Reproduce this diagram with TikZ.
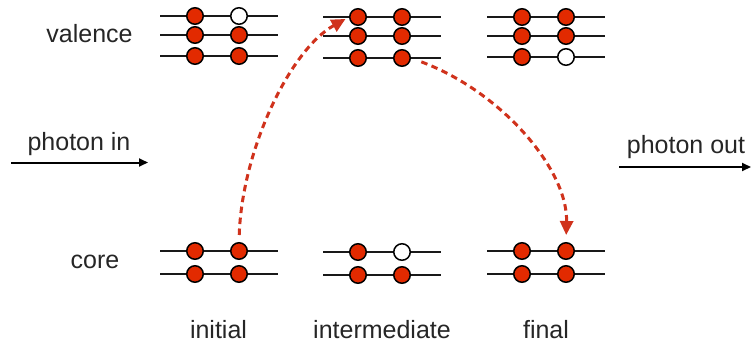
\documentclass[tikz,border=0pt]{standalone}
\usepackage{fontspec}
\setmainfont{Liberation Sans}
\usetikzlibrary{arrows.meta}
\definecolor{elred}{RGB}{226,42,0}
\definecolor{arrred}{RGB}{208,50,28}
\tikzset{
  level/.style={line width=2pt, draw=black!90},
  elec/.style={circle, draw=black, line width=1.5pt, fill=elred, inner sep=0pt, minimum size=16.5pt},
  hole/.style={elec, fill=white},
  lbl/.style={anchor=base, font=\fontsize{25}{30}\selectfont, text=black!85, inner sep=0pt},
  jump/.style={draw=arrred, line width=3pt, dash pattern=on 6.5pt off 4.5pt, -{Triangle[length=14pt,width=13pt]}},
  photon/.style={line width=2pt, -{Triangle[length=9pt,width=8pt]}}
}
\newcommand{\lev}[5]{% name, xleft, y, left style, right style
  \draw[level] (#2,#3) -- ++(118,0);
  \node[#4] (#1a) at (#2+35,#3) {};
  \node[#5] (#1b) at (#2+79,#3) {};
}
\begin{document}
\begin{tikzpicture}[x=1pt,y=-1pt]
\useasboundingbox (0,0) rectangle (751,345);
% initial
\lev{iva}{160}{16}{elec}{hole}
\lev{ivb}{160}{35}{elec}{elec}
\lev{ivc}{160}{56}{elec}{elec}
\lev{ica}{160}{251}{elec}{elec}
\lev{icb}{160}{274}{elec}{elec}
% intermediate
\lev{mva}{323}{17}{elec}{elec}
\lev{mvb}{323}{36}{elec}{elec}
\lev{mvc}{323}{58}{elec}{elec}
\lev{mca}{323}{252}{elec}{hole}
\lev{mcb}{323}{275}{elec}{elec}
% final
\lev{fva}{487}{17}{elec}{elec}
\lev{fvb}{487}{36}{elec}{elec}
\lev{fvc}{487}{57}{elec}{hole}
\lev{fca}{487}{251}{elec}{elec}
\lev{fcb}{487}{274}{elec}{elec}
% labels
\node[lbl] (valence) at (89.5,43) {valence};
\node[lbl] (core) at (95,268) {core};
\node[lbl] (initial) at (218.5,338) {initial};
\node[lbl] (intermediate) at (382,338) {intermediate};
\node[lbl] (final) at (546,338) {final};
\node[lbl] (phin) at (79,150) {photon in};
\node[lbl] (phout) at (686,153) {photon out};
% photon arrows
\coordinate (pinA) at (11,162.5);
\coordinate (pinB) at (148,162.5);
\coordinate (poutA) at (619,167);
\coordinate (poutB) at (751,167);
\draw[photon] (pinA) -- (pinB);
\draw[photon] (poutA) -- (poutB);
% transitions
\draw[jump, shorten <=7pt, shorten >=4pt] (icab.north) .. controls (242,150) and (290,50) .. (mvaa.west);
\draw[jump, shorten <=11pt, shorten >=7pt] (mvcb.east) .. controls (502,92) and (568,170) .. (fcab.north);
\end{tikzpicture}
\end{document}
